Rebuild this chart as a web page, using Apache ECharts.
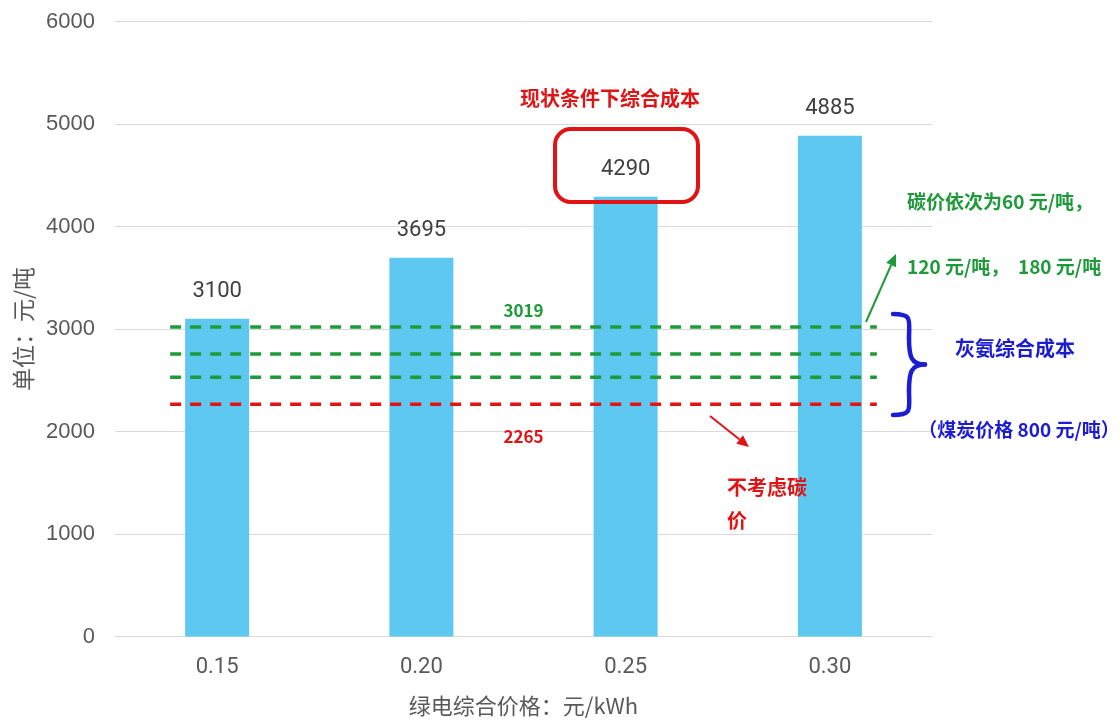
<!DOCTYPE html>
<html>
<head>
<meta charset="utf-8">
<script src="https://cdn.jsdelivr.net/npm/echarts@6/dist/echarts.min.js"></script>
<style>
  html, body { margin: 0; padding: 0; background: #ffffff; overflow: hidden; }
  #chart { width: 1120px; height: 722px; }
</style>
</head>
<body>
<div id="chart"></div>
<script>
// Green-power price scenarios (元/kWh) and the resulting green-ammonia cost (元/吨)
const categories = ['0.15', '0.20', '0.25', '0.30'];
const greenCost = [3100, 3695, 4290, 4885];
const yTicks = { min: 0, max: 6000, step: 1000 };

// Grey-ammonia cost levels: without carbon price, then carbon price 60 / 120 / 180 元/吨
const greyNoCarbon = 2265;
const greyWithCarbon = [2530, 2755, 3019];

// Horizontal extent of the reference lines, in category units (0..4 across the plot)
const refSpan = [0.27, 3.73];

const GRAY = '#595959';
const GREEN = '#1f9a3a';
const RED = '#e01414';
const BLUE = '#1c1cd2';
const CJK = '"Noto Sans CJK SC", "Noto Sans", sans-serif';

function refLine(value, color, labelOffset) {
  const s = {
    type: 'line',
    xAxisIndex: 1,
    yAxisIndex: 0,
    data: [[refSpan[0], value], [refSpan[1], value]],
    symbol: 'none',
    silent: true,
    z: 5,
    lineStyle: { color: color, width: 3.5, type: [11, 9] },
    animation: false
  };
  if (labelOffset !== null) {
    s.markPoint = {
      symbol: 'circle',
      symbolSize: 1,
      itemStyle: { color: 'rgba(0,0,0,0)' },
      data: [{ coord: [2, value], value: value }],
      label: {
        show: true,
        position: 'inside',
        offset: [0, labelOffset],
        color: color,
        fontFamily: CJK,
        fontWeight: 'bold',
        fontSize: 17,
        formatter: p => String(p.value)
      }
    };
  }
  return s;
}

function arrow(x1, y1, x2, y2, color, width, head) {
  const ang = Math.atan2(y2 - y1, x2 - x1);
  const bx = x2 - head * Math.cos(ang), by = y2 - head * Math.sin(ang);
  const hw = head * 0.45;
  const px = -Math.sin(ang) * hw, py = Math.cos(ang) * hw;
  return [
    { type: 'line', z: 20, shape: { x1: x1, y1: y1, x2: bx, y2: by }, style: { stroke: color, lineWidth: width } },
    { type: 'polygon', z: 20, shape: { points: [[x2, y2], [bx + px, by + py], [bx - px, by - py]] }, style: { fill: color } }
  ];
}

function note(x, y, text, color, size, align) {
  return {
    type: 'text', x: x, y: y, z: 20,
    style: {
      text: text, fill: color, font: 'bold ' + size + 'px ' + CJK,
      textAlign: align || 'left', textVerticalAlign: 'middle'
    }
  };
}

// Curly brace built from four cubic segments
function brace(x, yTop, yBot, tipX, color, width) {
  const mid = (yTop + yBot) / 2;
  const sx = x + (tipX - x) * 0.5;
  const st = { stroke: color, lineWidth: width, lineCap: 'round', fill: 'none' };
  const seg = (x1, y1, c1x, c1y, c2x, c2y, x2, y2) => ({
    type: 'bezierCurve',
    shape: { x1: x1, y1: y1, cpx1: c1x, cpy1: c1y, cpx2: c2x, cpy2: c2y, x2: x2, y2: y2 },
    style: st, z: 20
  });
  return [
    seg(x, yTop, sx + 4, yTop, sx, yTop + 6, sx, yTop + 24),
    seg(sx, yTop + 24, sx, mid - 8, sx + 2, mid, tipX, mid),
    seg(tipX, mid, sx + 2, mid, sx, mid + 8, sx, yBot - 24),
    seg(sx, yBot - 24, sx, yBot - 6, sx + 4, yBot, x, yBot)
  ];
}

const chart = echarts.init(document.getElementById('chart'), null, { renderer: 'canvas' });

const series = [
  {
    type: 'bar',
    data: greenCost,
    barWidth: 64,
    itemStyle: { color: '#5ec8f0' },
    z: 2,
    label: {
      show: true,
      position: 'top',
      distance: 16,
      color: '#404040',
      fontFamily: 'Roboto, "Liberation Sans", sans-serif',
      fontSize: 22
    },
    animation: false
  },
  refLine(greyNoCarbon, RED, 32)
];
greyWithCarbon.forEach((v, i) => {
  series.push(refLine(v, GREEN, i === greyWithCarbon.length - 1 ? -17 : null));
});

chart.setOption({
  backgroundColor: '#ffffff',
  animation: false,
  grid: {
    left: 115, width: 817, top: 21.5, height: 615,
    containLabel: false, outerBoundsMode: 'none'
  },
  xAxis: [
    {
      type: 'category',
      data: categories,
      axisLine: { show: true, lineStyle: { color: '#d9d9d9', width: 1 } },
      axisTick: { show: false },
      axisLabel: {
        color: GRAY, fontSize: 22, margin: 20,
        fontFamily: 'Roboto, "Liberation Sans", sans-serif'
      },
      name: '绿电综合价格：元/kWh',
      nameLocation: 'middle',
      nameGap: 58,
      nameTextStyle: { color: GRAY, fontSize: 22, fontFamily: CJK }
    },
    { type: 'value', min: 0, max: 4, show: false }
  ],
  yAxis: {
    type: 'value',
    min: yTicks.min,
    max: yTicks.max,
    interval: yTicks.step,
    axisLine: { show: false },
    axisTick: { show: false },
    splitLine: { lineStyle: { color: '#d9d9d9', width: 1 } },
    axisLabel: {
      color: GRAY, fontSize: 22, margin: 20,
      fontFamily: '"Liberation Sans", Arial, sans-serif',
      formatter: v => String(v)
    },
    name: '单位：元/吨',
    nameLocation: 'middle',
    nameGap: 80,
    nameTextStyle: { color: GRAY, fontSize: 23, fontFamily: CJK }
  },
  series: series,
  graphic: [
    note(610, 98, '现状条件下综合成本', RED, 20, 'center'),
    {
      type: 'rect', z: 20,
      shape: { x: 555, y: 129, width: 143, height: 73, r: 16 },
      style: { fill: 'none', stroke: RED, lineWidth: 4 }
    },
    ...arrow(866, 322, 896, 254, GREEN, 2, 12),
    note(907, 202, '碳价依次为60 元/吨，', GREEN, 19),
    note(907, 267, '120 元/吨，  180 元/吨', GREEN, 19),
    ...brace(893, 314, 415, 925, BLUE, 4.5),
    note(1015, 348, '灰氨综合成本', BLUE, 20, 'center'),
    note(1019, 430, '（煤炭价格 800 元/吨）', BLUE, 19, 'center'),
    ...arrow(710, 416, 749, 447, RED, 2, 12),
    note(727, 487, '不考虑碳', RED, 20),
    note(727, 520, '价', RED, 20)
  ]
});
</script>
</body>
</html>
